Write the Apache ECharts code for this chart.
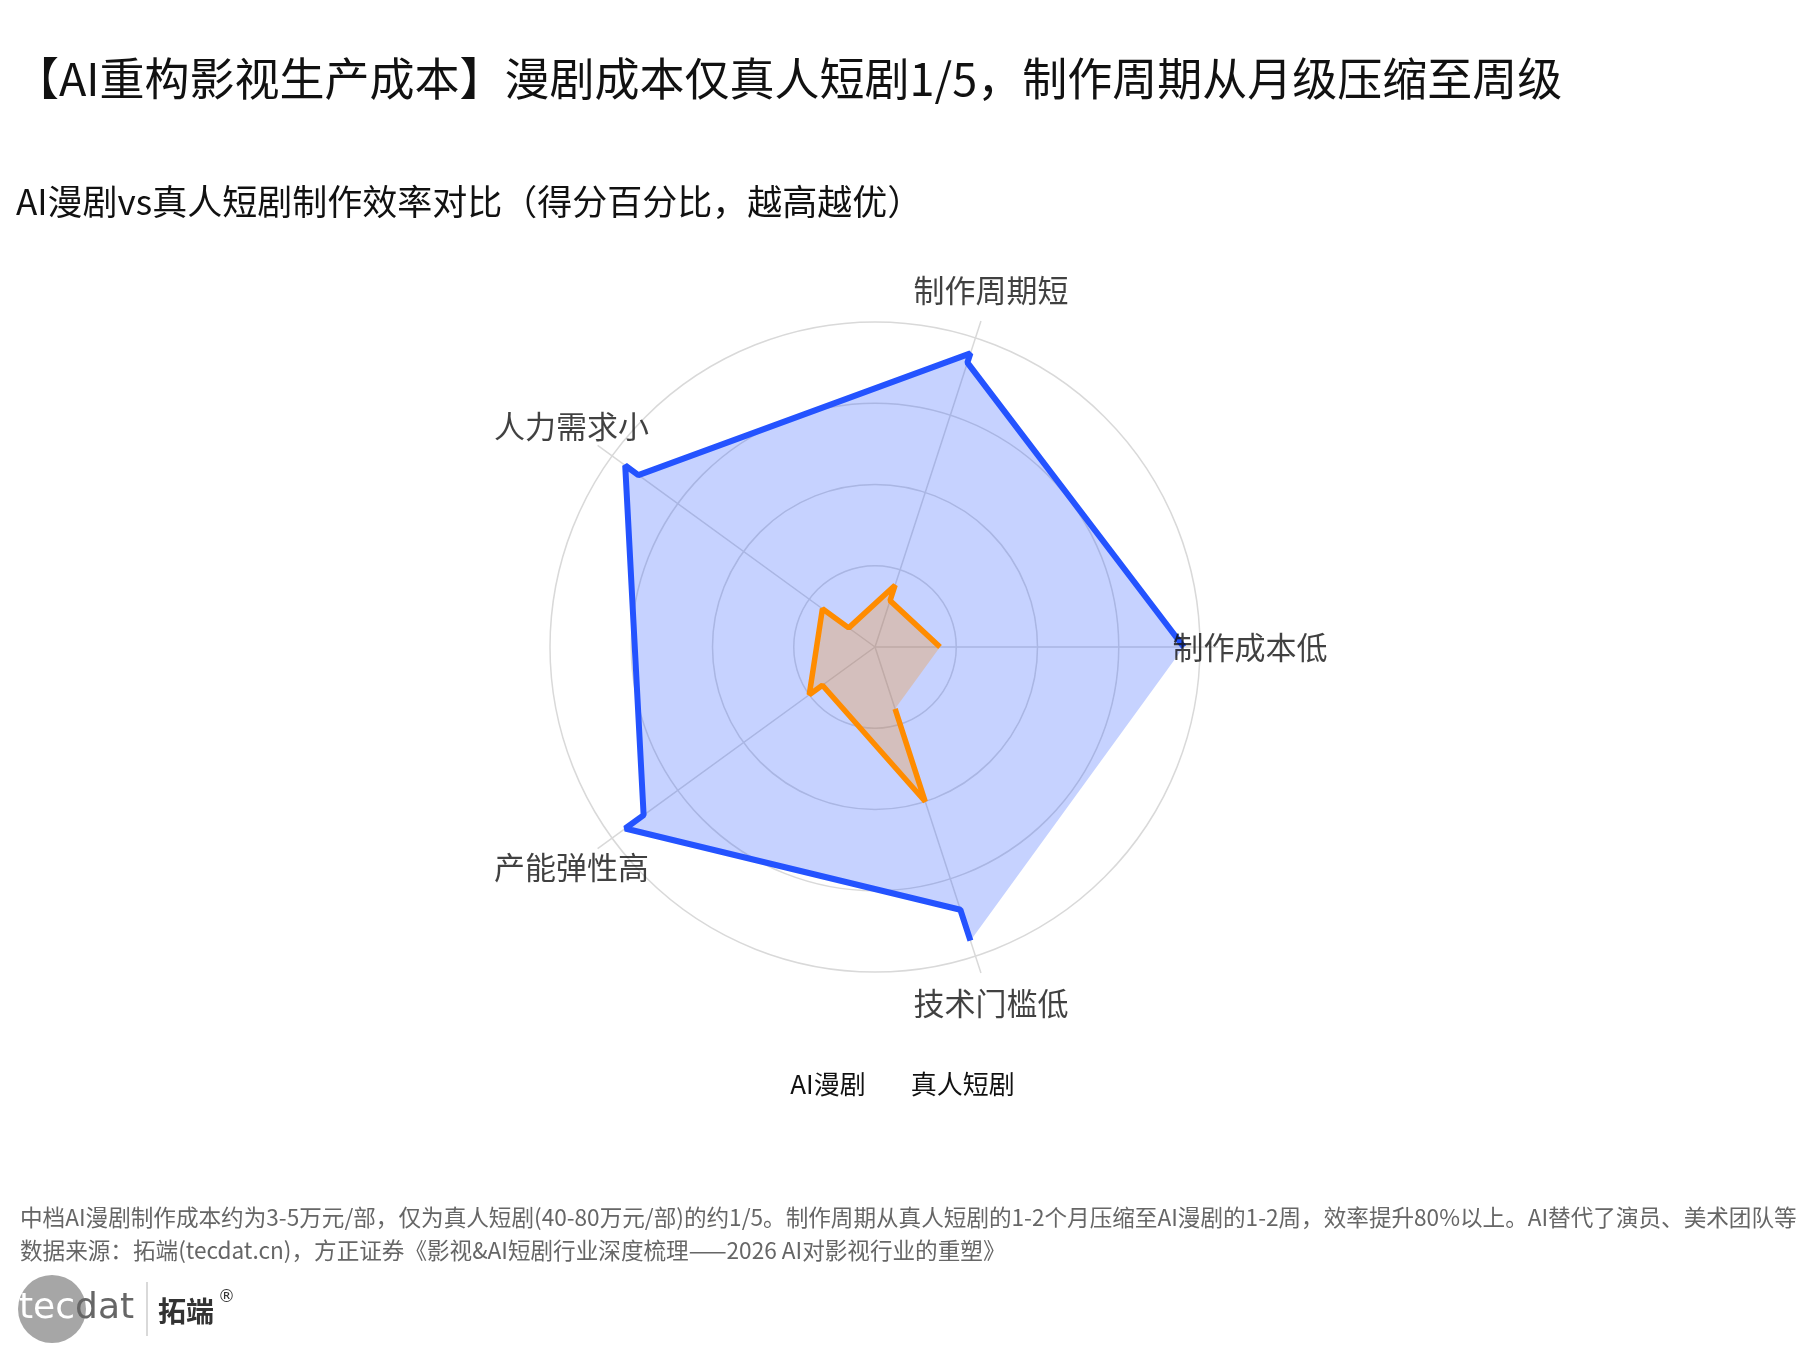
<!DOCTYPE html>
<html>
<head>
<meta charset="utf-8">
<script src="https://cdn.jsdelivr.net/npm/echarts@6/dist/echarts.min.js"></script>
<style>
html,body{margin:0;padding:0;background:#ffffff;}
#chart{width:1800px;height:1350px;}
</style>
</head>
<body>
<div id="chart"></div>
<script>
// ---------- data ----------
const titleText = '【AI重构影视生产成本】漫剧成本仅真人短剧1/5，制作周期从月级压缩至周级';
const subtitleText = 'AI漫剧vs真人短剧制作效率对比（得分百分比，越高越优）';
const categories = ['制作成本低', '制作周期短', '人力需求小', '产能弹性高', '技术门槛低'];
const seriesNames = ['AI漫剧', '真人短剧'];
const aiValues = [95, 92, 90, 88, 85];
const realValues = [20, 15, 10, 25, 50];
const ringValues = [0, 25, 50, 75, 100];
const noteText = '中档AI漫剧制作成本约为3-5万元/部，仅为真人短剧(40-80万元/部)的约1/5。制作周期从真人短剧的1-2个月压缩至AI漫剧的1-2周，效率提升80%以上。AI替代了演员、美术团队等';
const sourceText = '数据来源：拓端(tecdat.cn)，方正证券《影视&AI短剧行业深度梳理——2026 AI对影视行业的重塑》';

// ---------- styling ----------
const FONT = '"Noto Sans CJK SC", "Noto Sans", sans-serif';
const BLUE = '#2453ff';
const ORANGE = '#ff8c00';
const GRID = '#d9d9d9';
const RING_MAX = ringValues[ringValues.length - 1];
const SPOKE_MAX = 105.5;      // spokes run slightly past the outer ring
const LABEL_R = 115.4;        // where the indicator names sit
const OUTER_PX = 325;

const step = 360 / categories.length;
const angleOf = i => i * step;

// each spoke is traced out to its score and back to the first-score ring
function tracePath(values) {
  const pts = [];
  values.forEach((v, i) => {
    pts.push([v, angleOf(i)]);
    pts.push([values[0], angleOf(i)]);
  });
  return pts;
}
const closePath = pts => pts.concat([pts[0]]);

const aiPath = tracePath(aiValues);
const realPath = tracePath(realValues);

function fillSeries(name, color, pts) {
  return {
    name: name, type: 'line', coordinateSystem: 'polar', data: closePath(pts),
    symbol: 'none', color: color, silent: true,
    lineStyle: {width: 0, opacity: 0},
    areaStyle: {color: color, opacity: 0.26},
    z: 2
  };
}
function strokeSeries(name, color, width, pts) {
  return {
    name: name, type: 'line', coordinateSystem: 'polar', data: pts,
    symbol: 'none', color: color, silent: true,
    lineStyle: {width: width, color: color},
    z: 3
  };
}

const chart = echarts.init(document.getElementById('chart'), null, {renderer: 'canvas'});
chart.setOption({
  backgroundColor: '#ffffff',
  animation: false,
  textStyle: {fontFamily: FONT},
  title: [
    {text: titleText, left: 9, top: 51, padding: 5,
     textStyle: {fontSize: 45, fontWeight: 'normal', color: '#111', fontFamily: FONT}},
    {text: subtitleText, left: 11, top: 179, padding: 5,
     textStyle: {fontSize: 35, fontWeight: 'normal', color: '#111', fontFamily: FONT}}
  ],
  legend: {
    data: seriesNames, left: 'center', top: 1066, icon: 'none',
    itemWidth: 0, itemHeight: 14, itemGap: 40,
    textStyle: {fontSize: 26, color: '#111', fontFamily: FONT}
  },
  polar: {center: [875, 647], radius: OUTER_PX * SPOKE_MAX / RING_MAX},
  angleAxis: {
    type: 'value', min: 0, max: 360, interval: step, startAngle: 0, clockwise: false,
    axisLine: {show: false}, axisTick: {show: false}, axisLabel: {show: false},
    splitLine: {show: true, lineStyle: {color: GRID, width: 1.5}}
  },
  radiusAxis: {
    type: 'value', min: 0, max: SPOKE_MAX, interval: 25,
    axisLine: {show: false}, axisTick: {show: false}, axisLabel: {show: false},
    splitLine: {show: true, lineStyle: {
      color: ringValues.map(() => GRID).concat(['rgba(0,0,0,0)']), width: 1.5}}
  },
  series: [
    fillSeries(seriesNames[0], BLUE, aiPath),
    strokeSeries(seriesNames[0], BLUE, 6, aiPath),
    fillSeries(seriesNames[1], ORANGE, realPath),
    strokeSeries(seriesNames[1], ORANGE, 5.5, realPath),
    {
      name: 'names', type: 'scatter', coordinateSystem: 'polar', clip: false, silent: true,
      data: categories.map((c, i) => [LABEL_R, angleOf(i), c]),
      symbolSize: 1, itemStyle: {color: 'rgba(0,0,0,0)'},
      label: {show: true, position: 'inside', formatter: p => p.data[2],
              fontSize: 31, color: '#111', fontFamily: FONT},
      z: 5
    }
  ],
  graphic: [
    {type: 'text', x: 20, y: 1217, silent: true,
     style: {text: noteText, fontSize: 22.6, fontFamily: FONT, fill: '#666', verticalAlign: 'middle'}},
    {type: 'text', x: 20, y: 1250, silent: true,
     style: {text: sourceText, fontSize: 22.6, fontFamily: FONT, fill: '#666', verticalAlign: 'middle'}},
    {type: 'circle', shape: {cx: 52, cy: 1309, r: 34}, style: {fill: '#a6a6a6'}, silent: true},
    {type: 'text', x: 19, y: 1309, silent: true,
     style: {text: '{a|tec}{b|dat}', verticalAlign: 'middle',
             rich: {a: {fill: '#ffffff', fontSize: 36, fontFamily: '"DejaVu Sans", sans-serif'},
                    b: {fill: '#666666', fontSize: 36, fontFamily: '"DejaVu Sans", sans-serif'}}}},
    {type: 'line', shape: {x1: 147, y1: 1282, x2: 147, y2: 1336}, style: {stroke: '#cccccc', lineWidth: 1.5}, silent: true},
    {type: 'text', x: 158, y: 1311, silent: true,
     style: {text: '拓端', fontSize: 28, fontWeight: 'bold', fontFamily: FONT, fill: '#333', verticalAlign: 'middle'}},
    {type: 'text', x: 218, y: 1298, silent: true,
     style: {text: '®', fontSize: 17, fontFamily: '"DejaVu Sans", sans-serif', fill: '#333', verticalAlign: 'middle'}}
  ]
});
</script>
</body>
</html>
